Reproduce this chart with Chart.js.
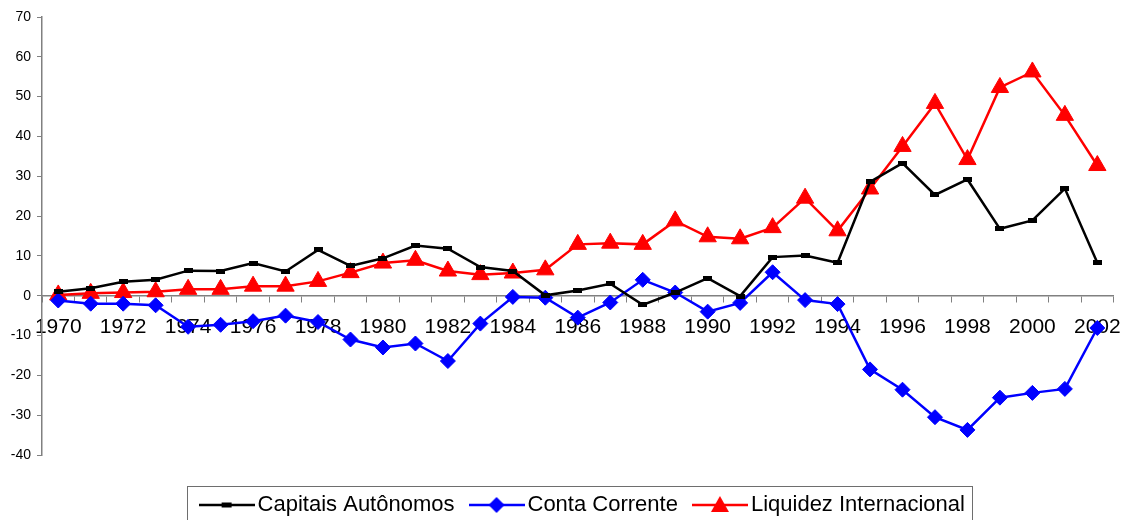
<!DOCTYPE html>
<html>
<head>
<meta charset="utf-8">
<script src="https://cdn.jsdelivr.net/npm/chart.js@4"></script>
<style>
  html, body { margin: 0; padding: 0; background: #fff; }
  #wrap { width: 1134px; height: 520px; }
</style>
</head>
<body>
<div id="wrap"><canvas id="canvas"></canvas></div>
<script>
const years = [];
for (let y = 1970; y <= 2002; y++) years.push(String(y));

const seriesNames = ['Capitais Autônomos', 'Conta Corrente', 'Liquidez Internacional'];

const capitais = [1.0, 1.9, 3.5, 4.0, 6.3, 6.2, 8.2, 6.1, 11.5, 7.5, 9.4, 12.6, 11.8, 7.2, 6.2, 0.1,
  1.3, 3.0, -2.3, 0.8, 4.4, -0.1, 9.7, 10.1, 8.3, 28.6, 33.3, 25.3, 29.2, 16.8, 18.9, 26.9, 8.3];

const conta = [-1.2, -2.0, -2.0, -2.4, -7.8, -7.3, -6.4, -5.0, -6.6, -11.0, -13.0, -12.0, -16.4, -7.0, -0.3, -0.5,
  -5.5, -1.7, 4.0, 0.8, -4.0, -1.8, 5.9, -1.1, -2.1, -18.5, -23.6, -30.5, -33.7, -25.6, -24.4, -23.4, -8.1];

const liquidez = [0.2, 0.6, 0.8, 1.0, 1.6, 1.6, 2.4, 2.4, 3.6, 5.8, 8.2, 8.9, 6.2, 5.3, 5.7, 6.5,
  12.9, 13.2, 12.9, 18.8, 14.8, 14.3, 17.1, 24.5, 16.3, 26.8, 37.5, 48.3, 34.2, 52.3, 56.2, 45.3, 32.7];

const yMin = -40, yMax = 70, yStep = 10;

// little black bar used as the marker of the first series
function barMarker() {
  const c = document.createElement('canvas');
  c.width = 9; c.height = 5;
  const g = c.getContext('2d');
  g.fillStyle = '#000';
  g.fillRect(0, 0, 9, 5);
  return c;
}

// legend sample: line with the marker in the middle
function legendIcon(color, kind) {
  const c = document.createElement('canvas');
  c.width = 56; c.height = 22;
  const g = c.getContext('2d');
  g.strokeStyle = color;
  g.lineWidth = 2.5;
  g.beginPath(); g.moveTo(0, 11); g.lineTo(56, 11); g.stroke();
  g.fillStyle = color;
  g.beginPath();
  if (kind === 'bar') {
    g.rect(23, 8.5, 10, 5);
  } else if (kind === 'diamond') {
    g.moveTo(28, 3); g.lineTo(36, 11); g.lineTo(28, 19); g.lineTo(20, 11);
  } else {
    g.moveTo(28, 2); g.lineTo(37, 18); g.lineTo(19, 18);
  }
  g.closePath(); g.fill();
  return c;
}

const icons = [legendIcon('#000000', 'bar'), legendIcon('#0000ff', 'diamond'), legendIcon('#ff0000', 'tri')];

const legendFrame = {
  id: 'legendFrame',
  afterLayout(chart) {
    // nudge the legend a little to the right, like the original
    chart.legend.left += 8;
    chart.legend.right += 8;
  },
  afterDraw(chart) {
    const hb = chart.legend.legendHitBoxes;
    if (!hb || !hb.length) return;
    const last = hb[hb.length - 1];
    const left = hb[0].left - 20;
    const right = last.left + last.width + 7;
    const top = hb[0].top - 8;
    const ctx = chart.ctx;
    ctx.save();
    ctx.strokeStyle = '#6e6e6e';
    ctx.lineWidth = 1;
    ctx.strokeRect(Math.round(left) + 0.5, Math.round(top) + 0.5, Math.round(right - left), chart.height + 10 - top);
    ctx.restore();
  }
};

Chart.defaults.font.family = "'Liberation Sans', Arial, sans-serif";
Chart.defaults.color = '#000';

const ctx = document.getElementById('canvas').getContext('2d');
const myChart = new Chart(ctx, {
  type: 'line',
  data: {
    labels: years,
    datasets: [
      {
        label: seriesNames[0],
        data: capitais,
        borderColor: '#000000',
        backgroundColor: '#000000',
        borderWidth: 2.5,
        pointStyle: barMarker(),
        pointRadius: 4,
        tension: 0
      },
      {
        label: seriesNames[1],
        data: conta,
        borderColor: '#0000ff',
        backgroundColor: '#0000ff',
        borderWidth: 2.5,
        pointStyle: 'rectRot',
        pointRadius: 7.5,
        pointBorderWidth: 1,
        tension: 0
      },
      {
        label: seriesNames[2],
        data: liquidez,
        borderColor: '#ff0000',
        backgroundColor: '#ff0000',
        borderWidth: 2.5,
        pointStyle: 'triangle',
        pointRadius: 10,
        pointBorderWidth: 1,
        tension: 0
      }
    ]
  },
  options: {
    responsive: true,
    maintainAspectRatio: false,
    animation: false,
    devicePixelRatio: 1,
    layout: { padding: { left: 0, right: 12, top: 17, bottom: -6 } },
    plugins: {
      tooltip: { enabled: false },
      // empty title used only as a spacer between the plot and the legend
      title: {
        display: true,
        text: '',
        position: 'bottom',
        weight: 500,
        padding: 0,
        font: { size: 17, lineHeight: 1 }
      },
      legend: {
        position: 'bottom',
        fullSize: false,
        labels: {
          usePointStyle: true,
          pointStyleWidth: 40,
          padding: 22,
          color: '#000',
          font: { size: 22 },
          generateLabels: (chart) => Chart.defaults.plugins.legend.labels.generateLabels(chart).map((l, i) => {
            l.pointStyle = icons[i];
            return l;
          })
        }
      }
    },
    scales: {
      x: {
        position: { y: 0 },
        offset: true,
        afterFit: (scale) => { scale.height = 0; },
        grid: {
          offset: true,
          drawOnChartArea: false,
          drawTicks: true,
          tickLength: 6,
          color: '#808080'
        },
        border: { display: true, color: '#808080', width: 1.5 },
        ticks: {
          autoSkip: false,
          maxRotation: 0,
          padding: 13,
          color: '#000',
          font: { size: 21 },
          callback: function (val, idx) { return idx % 2 === 0 ? this.getLabelForValue(val) : ''; }
        }
      },
      y: {
        min: yMin,
        max: yMax,
        afterFit: (scale) => { scale.width = 42; },
        grid: {
          drawOnChartArea: false,
          drawTicks: true,
          tickLength: 5,
          color: '#808080'
        },
        border: { display: true, color: '#808080', width: 1.5 },
        ticks: {
          stepSize: yStep,
          padding: 6,
          color: '#000',
          font: { size: 14 }
        }
      }
    }
  },
  plugins: [legendFrame]
});
</script>
</body>
</html>
